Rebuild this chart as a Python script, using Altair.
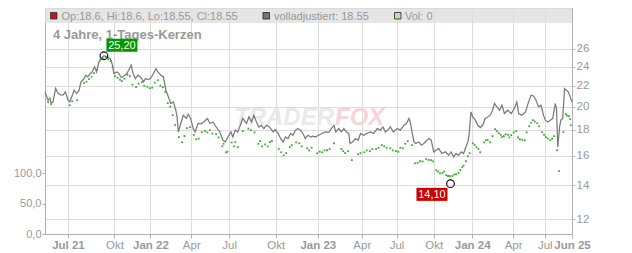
import altair as alt
import pandas as pd

# ---------------- data ----------------
tick_pos = [37, 112, 170, 236, 297, 372, 440, 511, 567, 627, 689, 755, 806, 850]
tick_lab = ["Jul 21", "Okt", "Jan 22", "Apr", "Jul", "Okt", "Jan 23", "Apr",
            "Jul", "Okt", "Jan 24", "Apr", "Jul", "Jun 25"]
price_ticks = [12, 14, 16, 18, 20, 22, 24, 26]
vol_ticks = [0, 50, 100]

line_idx = [
    0, 5, 8, 10, 13, 17, 21, 25, 29, 33,
    37, 40, 44, 47, 51, 55, 58, 62, 66, 69,
    73, 76, 80, 83, 87, 91, 95, 100, 105, 109,
    111, 116, 119, 123, 127, 132, 135, 139, 142, 146,
    150, 154, 159, 162, 166, 170, 175, 179, 182, 187,
    191, 195, 198, 203, 207, 211, 213, 215, 219, 223,
    228, 231, 235, 239, 242, 247, 252, 256, 262, 266,
    271, 276, 282, 287, 291, 295, 300, 303, 307, 311,
    316, 319, 325, 329, 333, 337, 341, 345, 349, 353,
    357, 362, 368, 371, 376, 380, 384, 388, 392, 396,
    400, 404, 408, 412, 416, 420, 424, 429, 432, 436,
    441, 447, 452, 458, 462, 466, 469, 474, 478, 482,
    486, 490, 492, 496, 501, 505, 509, 514, 519, 525,
    530, 536, 541, 545, 549, 553, 557, 562, 568, 573,
    579, 583, 587, 589, 592, 595, 598, 603, 607, 611,
    616, 620, 623, 627, 631, 635, 640, 646, 651, 655,
    659, 663, 667, 671, 675, 678, 682, 684, 687, 690,
    694, 698, 702, 706, 710, 714, 718, 722, 725, 729,
    733, 737, 741, 746, 752, 757, 761, 764, 769, 775,
    780, 784, 788, 792, 796, 800, 804, 807, 811, 815,
    819, 823, 825, 827, 830, 832, 835, 838, 841, 844,
    847, 850]
line_price = [
    21.39, 20.60, 20.78, 20.32, 20.44, 21.72, 21.26, 21.10, 21.07, 21.39,
    20.60, 20.44, 21.07, 21.55, 21.23, 21.55, 22.38, 22.62, 23.07, 22.89,
    23.25, 23.42, 23.96, 23.42, 24.51, 24.89, 25.20, 25.07, 24.89, 24.14,
    23.25, 23.42, 23.25, 22.83, 22.96, 23.25, 23.60, 24.14, 23.25, 22.73,
    23.07, 22.89, 22.38, 22.73, 22.62, 22.73, 23.25, 23.78, 23.42, 23.07,
    22.89, 21.55, 21.07, 20.29, 20.44, 19.68, 19.09, 17.83, 18.53, 19.24,
    18.96, 19.33, 18.96, 18.11, 17.83, 18.53, 18.50, 18.66, 18.96, 18.53,
    18.66, 18.24, 17.83, 17.17, 17.04, 17.43, 17.83, 17.43, 17.98, 17.83,
    18.53, 18.96, 18.53, 19.09, 18.66, 19.24, 18.66, 18.24, 18.38, 18.11,
    18.38, 18.24, 17.83, 18.03, 17.71, 17.31, 17.04, 17.43, 17.31, 17.71,
    17.57, 17.98, 18.11, 17.98, 17.71, 17.31, 17.57, 17.43, 17.49, 17.43,
    17.57, 17.71, 17.83, 17.80, 18.11, 18.38, 17.83, 18.11, 17.83, 18.11,
    17.83, 17.71, 16.92, 17.04, 17.31, 17.17, 17.71, 17.57, 17.71, 17.83,
    17.71, 18.11, 17.98, 18.24, 17.83, 17.98, 18.24, 17.83, 18.11, 17.98,
    18.38, 18.53, 18.96, 18.66, 17.83, 17.04, 16.92, 17.04, 16.79, 16.92,
    17.17, 17.31, 17.17, 16.29, 16.41, 16.54, 16.17, 16.29, 16.04, 16.29,
    15.92, 16.17, 16.04, 16.29, 16.17, 16.54, 17.04, 17.57, 19.53, 19.09,
    18.81, 18.38, 18.19, 18.38, 18.96, 19.09, 19.24, 19.68, 20.29, 19.98,
    19.68, 20.13, 19.39, 19.68, 19.39, 19.83, 20.44, 19.39, 19.24, 19.53,
    20.44, 21.07, 21.00, 20.60, 19.98, 20.13, 19.24, 18.81, 18.66, 18.81,
    18.96, 20.29, 19.83, 16.66, 18.24, 18.81, 18.96, 21.72, 21.55, 21.39,
    20.91, 20.44]

green_idx = [
    5, 10, 40, 44, 52, 63, 71, 79, 89, 98, 106, 113, 124, 137, 147, 156, 169,
    182, 190, 198, 206, 216, 221, 229, 234, 244, 253, 266, 276, 286, 292, 307,
    311, 319, 332, 347, 355, 363, 381, 385, 395, 410, 423, 439, 447, 455, 466,
    481, 489, 495, 505, 515, 524, 534, 547, 557, 566, 577, 585, 592, 597, 605,
    615, 623, 631, 637, 647, 653, 663, 673, 679, 682, 690, 696, 702, 711, 718,
    726, 732, 737, 743, 752, 760, 766, 774, 781, 787, 794, 802, 808, 815, 821,
    826, 829, 836, 840, 845, 848,
    67, 75, 84, 93, 102, 109, 117, 121, 128, 133, 141, 151, 160, 165, 173, 177,
    186, 194, 202, 210, 225, 240, 248, 258, 262, 270, 280, 288, 294, 301, 305,
    328, 338, 344, 350, 359, 366, 377, 389, 398, 405, 414, 426, 430, 443, 451,
    459, 478, 484, 509, 519, 528, 538, 543, 551, 561, 570, 573, 581, 601, 609,
    619, 626, 634, 641, 644, 650, 657, 660, 667, 670, 675, 685, 693, 699, 708,
    714, 722, 729, 735, 740, 747, 749, 756, 763, 770, 777, 784, 790, 797, 805,
    811, 818, 842, 847]
green_price = [
    20.41, 20.22, 20.13, 20.50, 20.60, 22.25, 22.66, 23.28, 24.70, 25.04,
    24.59, 22.96, 22.45, 22.96, 21.85, 22.35, 21.75, 22.55, 21.85, 20.32,
    19.24, 17.41, 17.02, 18.14, 18.23, 17.25, 17.81, 17.98, 17.65, 16.71,
    16.26, 17.02, 16.64, 17.89, 17.98, 17.10, 16.86, 17.02, 16.26, 16.04,
    16.64, 16.94, 16.56, 16.19, 16.26, 16.41, 16.94, 16.34, 16.34, 15.69,
    16.12, 16.26, 16.34, 16.49, 16.71, 16.56, 16.34, 16.56, 17.10, 16.79,
    15.47, 15.61, 15.76, 15.69, 14.99, 14.78, 14.65, 14.59, 14.72, 15.19,
    15.61, 15.97, 16.94, 16.64, 16.26, 17.17, 17.02, 18.06, 17.73, 17.41,
    17.65, 17.57, 17.89, 17.25, 17.17, 18.30, 18.81, 18.55, 17.81, 17.41,
    17.17, 17.49, 16.41, 14.92, 17.81, 19.33, 19.15, 18.38,
    22.40, 22.90, 23.60, 24.90, 24.80, 23.90, 22.80, 22.60, 22.70, 23.10,
    22.10, 22.20, 22.00, 21.90, 21.80, 22.30, 22.00, 21.40, 20.00, 18.40,
    17.50, 17.60, 17.30, 17.90, 17.80, 17.70, 17.40, 16.90, 16.30, 17.00,
    16.70, 18.10, 17.80, 16.90, 16.70, 16.70, 17.10, 16.50, 16.20, 16.80,
    17.00, 16.70, 16.40, 16.60, 16.30, 16.40, 16.50, 16.50, 16.20, 16.20,
    16.40, 16.50, 16.60, 16.80, 16.60, 16.40, 16.30, 16.60, 16.90, 15.50,
    15.60, 15.70, 15.60, 14.90, 14.80, 14.90, 14.60, 14.60, 14.70, 14.80,
    15.00, 15.30, 16.20, 16.80, 16.50, 17.00, 17.20, 17.50, 17.90, 17.60,
    17.50, 17.60, 17.40, 17.80, 17.40, 17.20, 17.80, 18.60, 18.70, 18.30,
    17.60, 17.30, 17.30, 19.20, 18.90]

extreme_idx = [95, 654]
extreme_price = [25.20, 14.10]
extreme_label = ["25,20", "14,10"]

legend_text = ["Op:18.6, Hi:18.6, Lo:18.55, Cl:18.55", "volladjustiert: 18.55", "Vol: 0"]
chart_title = "4 Jahre, 1-Tages-Kerzen"

# ---------------- chart ----------------
W, H = 527, 226
FONT = "Liberation Sans"
GRID = "#dcdcdc"
AX = "#b0b0b0"
LBL = "#999999"

label_expr = " : ".join(f"datum.value == {p} ? '{l}'" for p, l in zip(tick_pos, tick_lab)) + " : ''"
bold_pos = [p for p, l in zip(tick_pos, tick_lab) if " " in l]

x_enc = alt.X(
    "t:Q",
    scale=alt.Scale(domain=[0, 850], nice=False, zero=False),
    axis=alt.Axis(
        values=tick_pos, labelExpr=label_expr, title=None, grid=True,
        gridColor=GRID, domainColor=AX, tickColor=AX, tickSize=4,
        labelColor=LBL, labelFont=FONT, labelFontSize=11.5, labelPadding=1,
        labelOverlap=False, labelFlush=False, labelBound=False,
        labelFontWeight={"condition": {"test": f"indexof({bold_pos}, datum.value) >= 0",
                                       "value": "bold"}, "value": "normal"},
    ),
)
y_price = alt.Y(
    "p:Q",
    scale=alt.Scale(type="log", domain=[11.22, 31.3], nice=False),
    axis=alt.Axis(
        orient="right", values=price_ticks, format="d", title=None, grid=True,
        gridColor=GRID, domainColor=AX, tickColor=AX, tickSize=3, labelPadding=1,
        labelColor=LBL, labelFont=FONT, labelFontSize=11.5,
    ),
)

line_df = pd.DataFrame({"t": line_idx, "p": line_price})
green_df = pd.DataFrame({"t": green_idx, "p": green_price})
ext_df = pd.DataFrame({"t": extreme_idx, "p": extreme_price, "lab": extreme_label})

line = alt.Chart(line_df).mark_line(color="#7a7a7a", strokeWidth=1.25).encode(x=x_enc, y=y_price)
green = alt.Chart(green_df).mark_point(
    shape="square", filled=True, size=3.2, color="#3aad2e", opacity=1
).encode(x=x_enc, y=y_price)
circles = alt.Chart(ext_df).mark_point(
    shape="circle", size=58, filled=False, color="#111111", strokeWidth=1.2, opacity=1
).encode(x=x_enc, y=y_price)

box_shape = "M-1,-0.42H1V0.42H-1Z"
box_hi = alt.Chart(ext_df.iloc[[0]]).mark_point(
    shape=box_shape, size=961, filled=True, color="#009a00", opacity=1, xOffset=18, yOffset=-10.5
).encode(x=x_enc, y=y_price)
box_lo = alt.Chart(ext_df.iloc[[1]]).mark_point(
    shape=box_shape, size=961, filled=True, color="#cc0000", opacity=1, xOffset=-18.5, yOffset=10.7
).encode(x=x_enc, y=y_price)
txt_hi = alt.Chart(ext_df.iloc[[0]]).mark_text(
    color="white", font=FONT, fontSize=11, align="center", baseline="middle", xOffset=18, yOffset=-10
).encode(x=x_enc, y=y_price, text="lab:N")
txt_lo = alt.Chart(ext_df.iloc[[1]]).mark_text(
    color="white", font=FONT, fontSize=11, align="center", baseline="middle", xOffset=-18.5, yOffset=11.2
).encode(x=x_enc, y=y_price, text="lab:N")

price_layer = alt.layer(line, green, circles, box_hi, box_lo, txt_hi, txt_lo)

vol_df = pd.DataFrame({"v": vol_ticks})
vol_layer = alt.Chart(vol_df).mark_point(opacity=0).encode(
    x=alt.value(0),
    y=alt.Y("v:Q", scale=alt.Scale(domain=[0, 372], nice=False),
            axis=alt.Axis(orient="left", values=vol_ticks, title=None, grid=False,
                          labelExpr="replace(format(datum.value, '.1f'), '.', ',')",
                          domainColor=AX, tickColor=AX, tickSize=3, labelPadding=1,
                          labelColor=LBL, labelFont=FONT, labelFontSize=11)),
)

one = pd.DataFrame({"a": [0]})
band = alt.Chart(one).mark_rect(color="#dedede", opacity=0.8).encode(
    x=alt.value(0), x2=alt.value(W), y=alt.value(0), y2=alt.value(15))

sq_red = alt.Chart(one).mark_rect(color="#b81c1c", stroke="#333333", strokeWidth=0.8).encode(
    x=alt.value(5.5), x2=alt.value(12), y=alt.value(4.5), y2=alt.value(11))
sq_gray = alt.Chart(one).mark_rect(color="#777777", stroke="#222222", strokeWidth=0.8).encode(
    x=alt.value(218), x2=alt.value(224.5), y=alt.value(4.5), y2=alt.value(11))
sq_green = alt.Chart(one).mark_rect(color="#b6e0ad", stroke="#222222", strokeWidth=0.8).encode(
    x=alt.value(349.5), x2=alt.value(356), y=alt.value(4.5), y2=alt.value(11))

def label(txt, x, y, size, weight="normal", color=LBL, align="left", style="normal"):
    return alt.Chart(one).mark_text(
        text=txt, font=FONT, fontSize=size, fontWeight=weight, color=color,
        align=align, baseline="alphabetic", fontStyle=style
    ).encode(x=alt.value(x), y=alt.value(y))

leg1 = label(legend_text[0], 16.5, 12, 11)
leg2 = label(legend_text[1], 229, 12, 11)
leg3 = label(legend_text[2], 360, 12, 11)
title = label(chart_title, 8, 30.5, 13, weight="bold", color="#999999")
wm1 = label("TRADER", 289, 117, 24, weight="bold", color="#e9e9e9", align="right", style="italic")
wm2 = label("FOX", 290, 117, 24, weight="bold", color="#f8d3d7", align="left", style="italic")

chart = alt.layer(
    band, wm1, wm2, title, vol_layer, price_layer,
    sq_red, sq_gray, sq_green, leg1, leg2, leg3,
).resolve_scale(y="independent").properties(
    width=W, height=H,
    padding={"left": 45, "top": 8, "right": 60, "bottom": 19},
    autosize=alt.AutoSizeParams(type="none"),
    background="white",
).configure_view(stroke="#c8c8c8", strokeWidth=1)

chart.save("out.html", embed_options={"renderer": "svg", "actions": False})
